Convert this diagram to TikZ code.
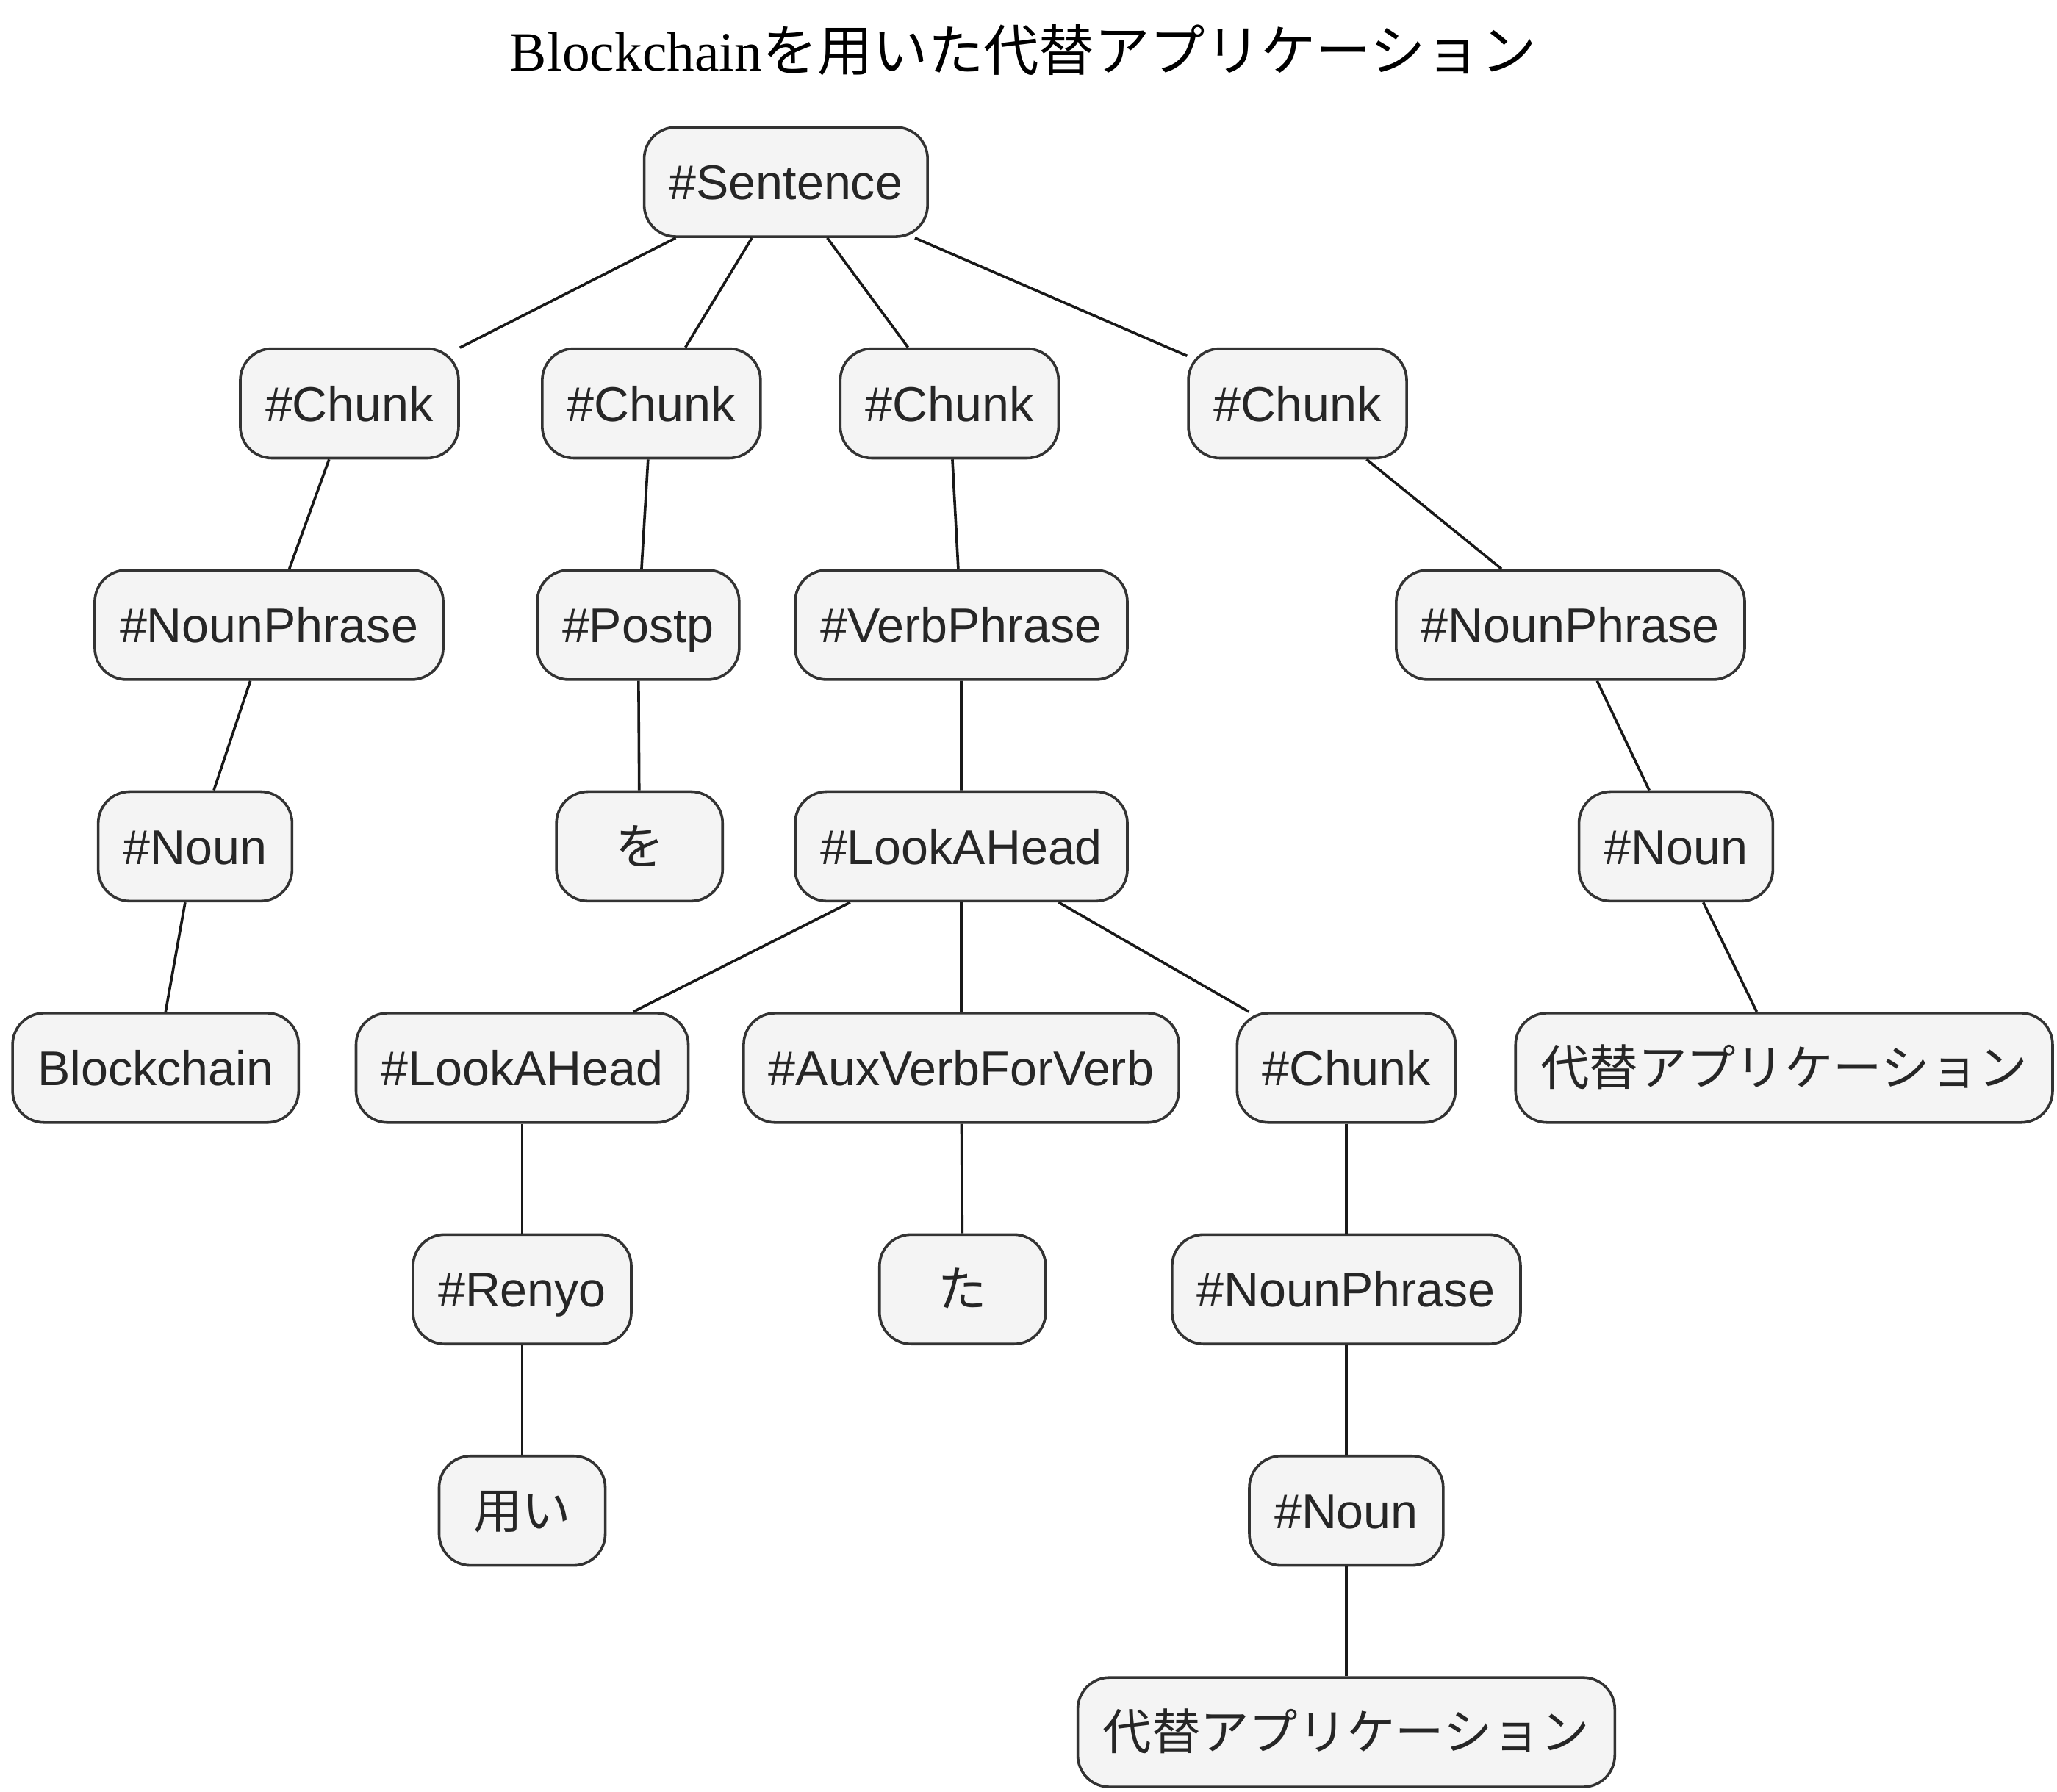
\documentclass[tikz,border=0pt]{standalone}
\usepackage{fontspec}
\setmainfont{Liberation Sans}
\newfontfamily\jp{Noto Sans CJK JP}
\newfontfamily\titleserif{Liberation Serif}
\definecolor{boxfill}{HTML}{F4F4F4}
\definecolor{boxline}{HTML}{333333}
\tikzset{
  tok/.style={draw=boxline, fill=boxfill, line width=2pt, rounded corners=24pt,
    minimum height=83pt, minimum width=126pt, inner xsep=19pt, inner ysep=0pt,
    text=black!85, font=\fontsize{37}{40}\selectfont, text height=27pt, text depth=0pt},
  arc/.style={line width=2pt, black!90}
}
\begin{document}
\begin{tikzpicture}[x=1pt,y=-1pt]
        \useasboundingbox (0,0) rectangle (1560,1359);
        \node [anchor=base, font=\fontsize{42}{46}\selectfont] (t) at (776,54)
          {\titleserif Blockchain{\jp を用いた代替アプリケーション}};
        % level 0 and 1
        \node [tok] (s) at (596,138) {\#Sentence};
        \node [tok] (c1) at (265,306) {\#Chunk};
        \node [tok] (c2) at (494,306) {\#Chunk};
        \node [tok] (c3) at (720,306) {\#Chunk};
        \node [tok] (c4) at (984,306) {\#Chunk};
        % level 2
        \node [tok] (np1) at (204,474) {\#NounPhrase};
        \node [tok] (p) at (484,474) {\#Postp};
        \node [tok] (vp) at (729,474) {\#VerbPhrase};
        \node [tok] (np2) at (1191,474) {\#NounPhrase};
        % level 3
        \node [tok] (n1) at (148,642) {\#Noun};
        \node [tok] (wo) at (485,642) {\jp を};
        \node [tok] (la1) at (729,642) {\#LookAHead};
        \node [tok] (n2) at (1271,642) {\#Noun};
        % level 4
        \node [tok] (bc) at (118,810) {Blockchain};
        \node [tok] (la2) at (396,810) {\#LookAHead};
        \node [tok] (av) at (729,810) {\#AuxVerbForVerb};
        \node [tok] (c5) at (1021,810) {\#Chunk};
        \node [tok] (dt1) at (1353,810) {\jp 代替アプリケーション};
        % level 5 to 7
        \node [tok] (r) at (396,978) {\#Renyo};
        \node [tok] (ta) at (730,978) {\jp た};
        \node [tok] (np3) at (1021,978) {\#NounPhrase};
        \node [tok] (m) at (396,1146) {\jp 用い};
        \node [tok] (n3) at (1021,1146) {\#Noun};
        \node [tok] (dt2) at (1021,1314) {\jp 代替アプリケーション};
        \draw [arc] (s) to (c1);
        \draw [arc] (s) to (c2);
        \draw [arc] (s) to (c3);
        \draw [arc] (s) to (c4);
        \draw [arc] (c1) to (np1) to (n1) to (bc);
        \draw [arc] (c2) to (p) to (wo);
        \draw [arc] (c3) to (vp) to (la1);
        \draw [arc] (c4) to (np2) to (n2) to (dt1);
        \draw [arc] (la1) to (la2);
        \draw [arc] (la1) to (av);
        \draw [arc] (la1) to (c5);
        \draw [arc] (la2) to (r) to (m);
        \draw [arc] (av) to (ta);
        \draw [arc] (c5) to (np3) to (n3) to (dt2);
      \end{tikzpicture}
\end{document}
